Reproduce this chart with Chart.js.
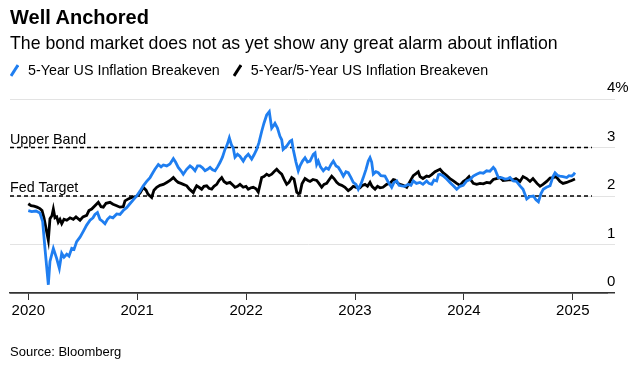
<!DOCTYPE html>
<html>
<head>
<meta charset="utf-8">
<script src="https://cdn.jsdelivr.net/npm/chart.js@4.4.1/dist/chart.umd.min.js"></script>
<style>
  body { margin: 0; background: #fff; font-family: "Liberation Sans", Arial, sans-serif; color: #000; }
  #wrap { position: relative; width: 633px; height: 366px; overflow: hidden; }
  #wrap canvas { position: absolute; left: 0; top: 0; }
  .title { position: absolute; left: 10px; top: 6px; font-size: 20px; font-weight: bold; line-height: 22px; }
  .sub { position: absolute; left: 10px; top: 33px; font-size: 17.7px; line-height: 20px; }
  .legend { position: absolute; left: 10px; top: 61px; font-size: 14.3px; line-height: 16px; white-space: nowrap; }
  .legend span { display: inline-block; vertical-align: middle; }
  .legend svg { vertical-align: middle; margin-right: 9px; }
  .source { position: absolute; left: 10px; top: 344px; font-size: 13px; line-height: 15px; }
</style>
</head>
<body>
<div id="wrap">
  <canvas id="chart" width="633" height="366"></canvas>
  <div class="title">Well Anchored</div>
  <div class="sub">The bond market does not as yet show any great alarm about inflation</div>
  <div class="legend">
    <svg width="9" height="13"><line x1="1" y1="12" x2="8" y2="1" stroke="#1f7ef0" stroke-width="3"/></svg><span>5-Year US Inflation Breakeven</span>
    <svg width="9" height="13" style="margin-left:9px"><line x1="1" y1="12" x2="8" y2="1" stroke="#000" stroke-width="3"/></svg><span>5-Year/5-Year US Inflation Breakeven</span>
  </div>
  <div class="source">Source: Bloomberg</div>
</div>
<script>
// 5-Year US Inflation Breakeven (decimal year, %)
const blueDates = [
  2020.000, 2020.031, 2020.071, 2020.107, 2020.132, 2020.153, 2020.184, 2020.199, 2020.230, 2020.261,
  2020.285, 2020.307, 2020.328, 2020.353, 2020.374, 2020.399, 2020.420, 2020.444, 2020.475, 2020.505,
  2020.536, 2020.567, 2020.594, 2020.612, 2020.635, 2020.658, 2020.681, 2020.704, 2020.727, 2020.750,
  2020.777, 2020.812, 2020.842, 2020.872, 2020.903, 2020.933, 2020.964, 2020.995, 2021.026, 2021.056,
  2021.087, 2021.118, 2021.141, 2021.163, 2021.194, 2021.219, 2021.240, 2021.271, 2021.301, 2021.332,
  2021.352, 2021.377, 2021.402, 2021.423, 2021.454, 2021.485, 2021.508, 2021.531, 2021.554, 2021.577,
  2021.600, 2021.623, 2021.646, 2021.669, 2021.692, 2021.715, 2021.738, 2021.760, 2021.783, 2021.806,
  2021.825, 2021.846, 2021.866, 2021.882, 2021.898, 2021.921, 2021.943, 2021.974, 2021.994, 2022.020,
  2022.051, 2022.073, 2022.097, 2022.118, 2022.143, 2022.164, 2022.189, 2022.213, 2022.235, 2022.251,
  2022.265, 2022.288, 2022.311, 2022.327, 2022.340, 2022.373, 2022.403, 2022.419, 2022.433, 2022.458,
  2022.479, 2022.495, 2022.518, 2022.541, 2022.564, 2022.587, 2022.617, 2022.633, 2022.648, 2022.663,
  2022.683, 2022.709, 2022.734, 2022.757, 2022.780, 2022.801, 2022.826, 2022.847, 2022.872, 2022.893,
  2022.917, 2022.938, 2022.963, 2022.984, 2023.009, 2023.030, 2023.055, 2023.076, 2023.101, 2023.122,
  2023.138, 2023.153, 2023.168, 2023.192, 2023.214, 2023.238, 2023.275, 2023.302, 2023.337, 2023.358,
  2023.383, 2023.404, 2023.428, 2023.458, 2023.489, 2023.514, 2023.535, 2023.564, 2023.596, 2023.624,
  2023.658, 2023.679, 2023.704, 2023.725, 2023.750, 2023.767, 2023.780, 2023.808, 2023.842, 2023.872,
  2023.903, 2023.934, 2023.964, 2023.994, 2024.026, 2024.056, 2024.086, 2024.117, 2024.148, 2024.178,
  2024.209, 2024.239, 2024.270, 2024.285, 2024.316, 2024.345, 2024.377, 2024.405, 2024.423, 2024.454,
  2024.483, 2024.515, 2024.543, 2024.577, 2024.607, 2024.638, 2024.662, 2024.684, 2024.708, 2024.729,
  2024.758, 2024.791, 2024.818, 2024.837, 2024.864, 2024.882, 2024.910, 2024.944, 2024.965, 2024.990,
  2025.006, 2025.020
];
const blueValues = [
  1.70, 1.68, 1.69, 1.65, 1.47, 0.92, 0.17, 0.65, 0.92, 0.71,
  0.51, 0.82, 0.74, 0.80, 0.76, 0.92, 0.90, 1.06, 1.15, 1.27,
  1.40, 1.50, 1.55, 1.62, 1.66, 1.52, 1.48, 1.43, 1.52, 1.57,
  1.55, 1.63, 1.62, 1.70, 1.76, 1.84, 1.92, 2.00, 2.10, 2.21,
  2.30, 2.38, 2.47, 2.55, 2.65, 2.60, 2.64, 2.62, 2.66, 2.77,
  2.70, 2.59, 2.52, 2.45, 2.55, 2.62, 2.58, 2.52, 2.62, 2.62,
  2.58, 2.52, 2.55, 2.59, 2.54, 2.52, 2.60, 2.69, 2.80, 2.96,
  3.05, 3.20, 3.05, 2.99, 2.80, 2.86, 2.82, 2.72, 2.80, 2.86,
  2.76, 2.85, 2.96, 3.10, 3.33, 3.50, 3.67, 3.74, 3.40, 3.45,
  3.50, 3.40, 3.23, 3.16, 2.96, 3.03, 3.13, 3.15, 2.96, 2.70,
  2.52, 2.62, 2.72, 2.79, 2.70, 2.72, 2.86, 2.89, 2.65, 2.72,
  2.60, 2.52, 2.58, 2.55, 2.65, 2.72, 2.62, 2.59, 2.50, 2.41,
  2.50, 2.48, 2.38, 2.28, 2.24, 2.14, 2.25, 2.38, 2.55, 2.72,
  2.79, 2.70, 2.45, 2.50, 2.48, 2.42, 2.41, 2.30, 2.18, 2.28,
  2.31, 2.22, 2.21, 2.20, 2.24, 2.22, 2.31, 2.26, 2.28, 2.24,
  2.31, 2.26, 2.24, 2.33, 2.31, 2.44, 2.45, 2.42, 2.35, 2.28,
  2.21, 2.14, 2.20, 2.22, 2.31, 2.34, 2.41, 2.45, 2.48, 2.47,
  2.52, 2.51, 2.59, 2.55, 2.38, 2.38, 2.35, 2.36, 2.38, 2.31,
  2.30, 2.21, 2.14, 1.94, 1.99, 2.00, 1.92, 1.88, 2.05, 2.14,
  2.18, 2.21, 2.40, 2.48, 2.42, 2.41, 2.40, 2.38, 2.42, 2.41,
  2.44, 2.48
];

// 5-Year/5-Year US Inflation Breakeven (decimal year, %)
const blackDates = [
  2020.000, 2020.025, 2020.052, 2020.080, 2020.107, 2020.126, 2020.144, 2020.169, 2020.184, 2020.199,
  2020.218, 2020.230, 2020.245, 2020.261, 2020.275, 2020.291, 2020.307, 2020.328, 2020.353, 2020.383,
  2020.413, 2020.438, 2020.475, 2020.502, 2020.536, 2020.557, 2020.582, 2020.612, 2020.643, 2020.668,
  2020.689, 2020.714, 2020.750, 2020.778, 2020.812, 2020.842, 2020.872, 2020.888, 2020.918, 2020.949,
  2020.971, 2020.995, 2021.026, 2021.056, 2021.081, 2021.099, 2021.118, 2021.133, 2021.154, 2021.179,
  2021.209, 2021.240, 2021.271, 2021.301, 2021.332, 2021.356, 2021.377, 2021.402, 2021.423, 2021.455,
  2021.476, 2021.500, 2021.515, 2021.531, 2021.546, 2021.567, 2021.592, 2021.613, 2021.638, 2021.659,
  2021.684, 2021.705, 2021.730, 2021.751, 2021.776, 2021.797, 2021.822, 2021.852, 2021.880, 2021.898,
  2021.921, 2021.944, 2021.974, 2021.999, 2022.020, 2022.045, 2022.066, 2022.091, 2022.112, 2022.143,
  2022.164, 2022.189, 2022.210, 2022.235, 2022.256, 2022.281, 2022.302, 2022.327, 2022.348, 2022.373,
  2022.394, 2022.419, 2022.440, 2022.465, 2022.481, 2022.495, 2022.513, 2022.541, 2022.568, 2022.587,
  2022.614, 2022.648, 2022.669, 2022.694, 2022.715, 2022.740, 2022.761, 2022.786, 2022.807, 2022.832,
  2022.853, 2022.878, 2022.908, 2022.938, 2022.963, 2022.984, 2023.009, 2023.046, 2023.069, 2023.092,
  2023.115, 2023.138, 2023.156, 2023.184, 2023.207, 2023.230, 2023.257, 2023.291, 2023.321, 2023.352,
  2023.367, 2023.395, 2023.413, 2023.441, 2023.475, 2023.505, 2023.535, 2023.560, 2023.581, 2023.597,
  2023.624, 2023.658, 2023.679, 2023.704, 2023.735, 2023.762, 2023.781, 2023.808, 2023.842, 2023.872,
  2023.903, 2023.934, 2023.964, 2023.994, 2024.026, 2024.047, 2024.065, 2024.086, 2024.117, 2024.148,
  2024.178, 2024.209, 2024.240, 2024.270, 2024.299, 2024.331, 2024.359, 2024.393, 2024.423, 2024.451,
  2024.478, 2024.515, 2024.543, 2024.577, 2024.607, 2024.634, 2024.671, 2024.699, 2024.726, 2024.760,
  2024.791, 2024.818, 2024.846, 2024.882, 2024.910, 2024.944, 2024.965, 2024.990, 2025.020
];
const blackValues = [
  1.84, 1.80, 1.79, 1.77, 1.74, 1.70, 1.55, 1.26, 1.09, 1.53,
  1.60, 1.73, 1.55, 1.57, 1.46, 1.52, 1.43, 1.52, 1.50, 1.55,
  1.52, 1.57, 1.50, 1.57, 1.60, 1.70, 1.73, 1.80, 1.87, 1.78,
  1.77, 1.85, 1.87, 1.83, 1.80, 1.77, 1.78, 1.90, 1.94, 1.97,
  1.98, 2.00, 2.06, 2.18, 2.12, 2.04, 2.00, 1.97, 2.12, 2.18,
  2.22, 2.24, 2.28, 2.32, 2.38, 2.32, 2.28, 2.26, 2.24, 2.21,
  2.15, 2.10, 2.07, 2.15, 2.21, 2.18, 2.14, 2.20, 2.21, 2.16,
  2.14, 2.20, 2.24, 2.32, 2.38, 2.30, 2.26, 2.28, 2.22, 2.18,
  2.20, 2.24, 2.18, 2.20, 2.14, 2.17, 2.18, 2.15, 2.08, 2.38,
  2.40, 2.45, 2.42, 2.45, 2.50, 2.55, 2.50, 2.45, 2.35, 2.24,
  2.28, 2.38, 2.35, 2.08, 2.05, 2.06, 2.25, 2.36, 2.32, 2.30,
  2.34, 2.32, 2.26, 2.18, 2.24, 2.26, 2.33, 2.41, 2.36, 2.28,
  2.24, 2.22, 2.18, 2.11, 2.15, 2.20, 2.18, 2.17, 2.22, 2.24,
  2.20, 2.28, 2.20, 2.14, 2.20, 2.17, 2.18, 2.24, 2.26, 2.34,
  2.33, 2.26, 2.24, 2.22, 2.18, 2.30, 2.42, 2.46, 2.50, 2.40,
  2.36, 2.41, 2.40, 2.44, 2.50, 2.53, 2.55, 2.48, 2.42, 2.36,
  2.31, 2.26, 2.22, 2.30, 2.35, 2.40, 2.33, 2.26, 2.24, 2.26,
  2.25, 2.28, 2.27, 2.34, 2.36, 2.38, 2.32, 2.33, 2.34, 2.33,
  2.36, 2.30, 2.40, 2.36, 2.30, 2.36, 2.26, 2.20, 2.24, 2.30,
  2.37, 2.38, 2.40, 2.30, 2.26, 2.28, 2.30, 2.32, 2.35
];

// reference lines
const bandStartEnd = [2019.832, 2025.176];
const upperBand = 3;
const fedTarget = 2;

// axes
const yearTicks = [2020, 2021, 2022, 2023, 2024, 2025];
const pctTicks = [0, 1, 2, 3, 4];

const BLUE = '#1f7ef0';

const toPoints = (xs, ys) => xs.map((x, i) => ({ x: x, y: ys[i] }));

// labels sitting on the dashed lines
const bandLabels = {
    id: 'bandLabels',
    afterDatasetsDraw(chart) {
        const { ctx, scales, chartArea } = chart;
        ctx.save();
        ctx.font = '14.3px "Liberation Sans", Arial, sans-serif';
        ctx.fillStyle = '#000';
        ctx.textBaseline = 'alphabetic';
        ctx.textAlign = 'left';
        ctx.fillText('Upper Band', chartArea.left, scales.y.getPixelForValue(upperBand) - 4);
        ctx.fillText('Fed Target', chartArea.left, scales.y.getPixelForValue(fedTarget) - 4);
        ctx.restore();
    }
};

const ctx = document.getElementById('chart').getContext('2d');
new Chart(ctx, {
    type: 'line',
    data: {
        datasets: [
            {
                label: '5-Year US Inflation Breakeven',
                data: toPoints(blueDates, blueValues),
                borderColor: BLUE,
                borderWidth: 2.8,
                pointRadius: 0,
                tension: 0
            },
            {
                label: '5-Year/5-Year US Inflation Breakeven',
                data: toPoints(blackDates, blackValues),
                borderColor: '#000',
                borderWidth: 2.8,
                pointRadius: 0,
                tension: 0
            },
            {
                label: 'Upper Band',
                data: toPoints(bandStartEnd, [upperBand, upperBand]),
                borderColor: '#000',
                borderWidth: 1.3,
                borderDash: [4, 3],
                pointRadius: 0
            },
            {
                label: 'Fed Target',
                data: toPoints(bandStartEnd, [fedTarget, fedTarget]),
                borderColor: '#000',
                borderWidth: 1.3,
                borderDash: [4, 3],
                pointRadius: 0
            }
        ]
    },
    options: {
        responsive: false,
        animation: false,
        devicePixelRatio: 1,
        layout: { padding: { left: 10, top: 99, right: 4, bottom: 44 } },
        plugins: {
            legend: { display: false },
            tooltip: { enabled: false }
        },
        scales: {
            x: {
                type: 'linear',
                min: 2019.832,
                max: 2025.314,
                afterBuildTicks: s => { s.ticks = yearTicks.map(v => ({ value: v })); },
                grid: { drawOnChartArea: false, drawTicks: true, tickLength: 7, color: '#333', lineWidth: 1 },
                border: { display: true, color: '#333', width: 1.5 },
                ticks: {
                    padding: 2,
                    maxRotation: 0,
                    color: '#000',
                    font: { family: '"Liberation Sans", Arial, sans-serif', size: 15 },
                    callback: v => String(v)
                }
            },
            y: {
                position: 'right',
                min: 0,
                max: 4,
                afterBuildTicks: s => { s.ticks = pctTicks.map(v => ({ value: v })); },
                afterFit: s => { s.width = 22; },
                grid: {
                    color: c => c.tick && c.tick.value === 0 ? '#333' : '#e3e3e3',
                    lineWidth: c => c.tick && c.tick.value === 0 ? 1.5 : 1,
                    tickLength: 8
                },
                border: { display: false },
                ticks: {
                    crossAlign: 'near',
                    padding: -8,
                    labelOffset: -11,
                    color: '#000',
                    font: { family: '"Liberation Sans", Arial, sans-serif', size: 15 },
                    callback: v => v === 4 ? '4%' : String(v)
                }
            }
        }
    },
    plugins: [bandLabels]
});
</script>
</body>
</html>
